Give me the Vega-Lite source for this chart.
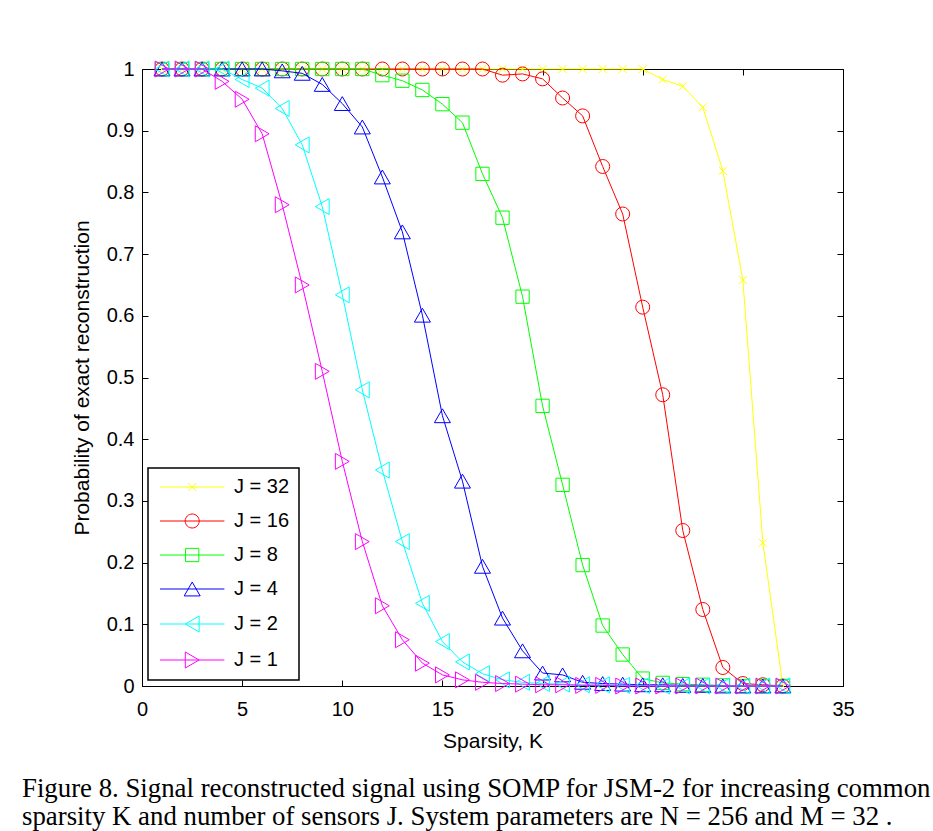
{
  "$schema": "https://vega.github.io/schema/vega-lite/v6.json",
  "width": 701,
  "height": 617,
  "autosize": {"type": "none"},
  "padding": {"left": 142, "top": 69, "right": 90, "bottom": 145},
  "background": "white",
  "config": {
    "view": {"stroke": "black", "strokeWidth": 1},
    "axis": {
      "labelFont": "Liberation Sans",
      "labelFontSize": 20,
      "labelColor": "black",
      "titleFont": "Liberation Sans",
      "titleFontSize": 21,
      "titleFontWeight": "normal",
      "titleColor": "black",
      "domainColor": "black",
      "tickColor": "black",
      "grid": false
    },
    "legend": {
      "orient": "bottom-left", "offset": 6, "padding": 9, "strokeColor": "black", "strokeWidth": 1.5, "fillColor": "white",
      "labelFont": "Liberation Sans", "labelFontSize": 20, "labelColor": "black", "labelOffset": 57, "rowPadding": 14,
      "symbolSize": 196, "symbolStrokeWidth": 1, "symbolOpacity": 1, "symbolFillColor": "transparent"
    }
  },
  "title": {
    "text": ["Figure 8. Signal reconstructed signal using SOMP for JSM-2 for increasing common", "sparsity K and number of sensors J. System parameters are  N = 256  and  M = 32 ."],
    "orient": "bottom",
    "anchor": "start",
    "frame": "group",
    "dx": -120,
    "offset": 25,
    "font": "Liberation Serif",
    "fontSize": 26.8,
    "fontWeight": "normal",
    "lineHeight": 28,
    "color": "black"
  },
  "data": {"values": [
    {"J":"J = 32","K":1,"P":1},{"J":"J = 32","K":2,"P":1},{"J":"J = 32","K":3,"P":1},{"J":"J = 32","K":4,"P":1},{"J":"J = 32","K":5,"P":1},{"J":"J = 32","K":6,"P":1},{"J":"J = 32","K":7,"P":1},{"J":"J = 32","K":8,"P":1},{"J":"J = 32","K":9,"P":1},{"J":"J = 32","K":10,"P":1},{"J":"J = 32","K":11,"P":1},{"J":"J = 32","K":12,"P":1},{"J":"J = 32","K":13,"P":1},{"J":"J = 32","K":14,"P":1},{"J":"J = 32","K":15,"P":1},{"J":"J = 32","K":16,"P":1},{"J":"J = 32","K":17,"P":1},{"J":"J = 32","K":18,"P":1},{"J":"J = 32","K":19,"P":1},{"J":"J = 32","K":20,"P":1},{"J":"J = 32","K":21,"P":1},{"J":"J = 32","K":22,"P":1},{"J":"J = 32","K":23,"P":1},{"J":"J = 32","K":24,"P":1},{"J":"J = 32","K":25,"P":1},{"J":"J = 32","K":26,"P":0.983},{"J":"J = 32","K":27,"P":0.972},{"J":"J = 32","K":28,"P":0.938},{"J":"J = 32","K":29,"P":0.835},{"J":"J = 32","K":30,"P":0.658},{"J":"J = 32","K":31,"P":0.232},{"J":"J = 32","K":32,"P":0},
    {"J":"J = 16","K":1,"P":1},{"J":"J = 16","K":2,"P":1},{"J":"J = 16","K":3,"P":1},{"J":"J = 16","K":4,"P":1},{"J":"J = 16","K":5,"P":1},{"J":"J = 16","K":6,"P":1},{"J":"J = 16","K":7,"P":1},{"J":"J = 16","K":8,"P":1},{"J":"J = 16","K":9,"P":1},{"J":"J = 16","K":10,"P":1},{"J":"J = 16","K":11,"P":1},{"J":"J = 16","K":12,"P":1},{"J":"J = 16","K":13,"P":1},{"J":"J = 16","K":14,"P":1},{"J":"J = 16","K":15,"P":1},{"J":"J = 16","K":16,"P":1},{"J":"J = 16","K":17,"P":1},{"J":"J = 16","K":18,"P":0.99},{"J":"J = 16","K":19,"P":0.992},{"J":"J = 16","K":20,"P":0.984},{"J":"J = 16","K":21,"P":0.953},{"J":"J = 16","K":22,"P":0.924},{"J":"J = 16","K":23,"P":0.842},{"J":"J = 16","K":24,"P":0.765},{"J":"J = 16","K":25,"P":0.614},{"J":"J = 16","K":26,"P":0.472},{"J":"J = 16","K":27,"P":0.252},{"J":"J = 16","K":28,"P":0.124},{"J":"J = 16","K":29,"P":0.03},{"J":"J = 16","K":30,"P":0.004},{"J":"J = 16","K":31,"P":0.002},{"J":"J = 16","K":32,"P":0},
    {"J":"J = 8","K":1,"P":1},{"J":"J = 8","K":2,"P":1},{"J":"J = 8","K":3,"P":1},{"J":"J = 8","K":4,"P":1},{"J":"J = 8","K":5,"P":1},{"J":"J = 8","K":6,"P":1},{"J":"J = 8","K":7,"P":1},{"J":"J = 8","K":8,"P":1},{"J":"J = 8","K":9,"P":1},{"J":"J = 8","K":10,"P":1},{"J":"J = 8","K":11,"P":1},{"J":"J = 8","K":12,"P":0.99},{"J":"J = 8","K":13,"P":0.981},{"J":"J = 8","K":14,"P":0.966},{"J":"J = 8","K":15,"P":0.943},{"J":"J = 8","K":16,"P":0.913},{"J":"J = 8","K":17,"P":0.83},{"J":"J = 8","K":18,"P":0.759},{"J":"J = 8","K":19,"P":0.631},{"J":"J = 8","K":20,"P":0.454},{"J":"J = 8","K":21,"P":0.326},{"J":"J = 8","K":22,"P":0.196},{"J":"J = 8","K":23,"P":0.098},{"J":"J = 8","K":24,"P":0.051},{"J":"J = 8","K":25,"P":0.012},{"J":"J = 8","K":26,"P":0.005},{"J":"J = 8","K":27,"P":0.003},{"J":"J = 8","K":28,"P":0.002},{"J":"J = 8","K":29,"P":0.001},{"J":"J = 8","K":30,"P":0},{"J":"J = 8","K":31,"P":0},{"J":"J = 8","K":32,"P":0},
    {"J":"J = 4","K":1,"P":1},{"J":"J = 4","K":2,"P":1},{"J":"J = 4","K":3,"P":1},{"J":"J = 4","K":4,"P":1},{"J":"J = 4","K":5,"P":1},{"J":"J = 4","K":6,"P":1},{"J":"J = 4","K":7,"P":0.997},{"J":"J = 4","K":8,"P":0.993},{"J":"J = 4","K":9,"P":0.975},{"J":"J = 4","K":10,"P":0.944},{"J":"J = 4","K":11,"P":0.906},{"J":"J = 4","K":12,"P":0.825},{"J":"J = 4","K":13,"P":0.736},{"J":"J = 4","K":14,"P":0.601},{"J":"J = 4","K":15,"P":0.438},{"J":"J = 4","K":16,"P":0.332},{"J":"J = 4","K":17,"P":0.194},{"J":"J = 4","K":18,"P":0.11},{"J":"J = 4","K":19,"P":0.057},{"J":"J = 4","K":20,"P":0.021},{"J":"J = 4","K":21,"P":0.018},{"J":"J = 4","K":22,"P":0.006},{"J":"J = 4","K":23,"P":0.004},{"J":"J = 4","K":24,"P":0.003},{"J":"J = 4","K":25,"P":0.002},{"J":"J = 4","K":26,"P":0.002},{"J":"J = 4","K":27,"P":0.001},{"J":"J = 4","K":28,"P":0.001},{"J":"J = 4","K":29,"P":0},{"J":"J = 4","K":30,"P":0},{"J":"J = 4","K":31,"P":0},{"J":"J = 4","K":32,"P":0},
    {"J":"J = 2","K":1,"P":1},{"J":"J = 2","K":2,"P":1},{"J":"J = 2","K":3,"P":1},{"J":"J = 2","K":4,"P":1},{"J":"J = 2","K":5,"P":0.983},{"J":"J = 2","K":6,"P":0.969},{"J":"J = 2","K":7,"P":0.936},{"J":"J = 2","K":8,"P":0.877},{"J":"J = 2","K":9,"P":0.777},{"J":"J = 2","K":10,"P":0.634},{"J":"J = 2","K":11,"P":0.48},{"J":"J = 2","K":12,"P":0.35},{"J":"J = 2","K":13,"P":0.234},{"J":"J = 2","K":14,"P":0.134},{"J":"J = 2","K":15,"P":0.072},{"J":"J = 2","K":16,"P":0.039},{"J":"J = 2","K":17,"P":0.02},{"J":"J = 2","K":18,"P":0.01},{"J":"J = 2","K":19,"P":0.006},{"J":"J = 2","K":20,"P":0.004},{"J":"J = 2","K":21,"P":0.003},{"J":"J = 2","K":22,"P":0.002},{"J":"J = 2","K":23,"P":0.002},{"J":"J = 2","K":24,"P":0.001},{"J":"J = 2","K":25,"P":0.001},{"J":"J = 2","K":26,"P":0},{"J":"J = 2","K":27,"P":0},{"J":"J = 2","K":28,"P":0},{"J":"J = 2","K":29,"P":0},{"J":"J = 2","K":30,"P":0},{"J":"J = 2","K":31,"P":0},{"J":"J = 2","K":32,"P":0},
    {"J":"J = 1","K":1,"P":1},{"J":"J = 1","K":2,"P":1},{"J":"J = 1","K":3,"P":1},{"J":"J = 1","K":4,"P":0.98},{"J":"J = 1","K":5,"P":0.951},{"J":"J = 1","K":6,"P":0.895},{"J":"J = 1","K":7,"P":0.78},{"J":"J = 1","K":8,"P":0.65},{"J":"J = 1","K":9,"P":0.51},{"J":"J = 1","K":10,"P":0.364},{"J":"J = 1","K":11,"P":0.234},{"J":"J = 1","K":12,"P":0.13},{"J":"J = 1","K":13,"P":0.075},{"J":"J = 1","K":14,"P":0.037},{"J":"J = 1","K":15,"P":0.018},{"J":"J = 1","K":16,"P":0.01},{"J":"J = 1","K":17,"P":0.006},{"J":"J = 1","K":18,"P":0.004},{"J":"J = 1","K":19,"P":0.003},{"J":"J = 1","K":20,"P":0.002},{"J":"J = 1","K":21,"P":0.002},{"J":"J = 1","K":22,"P":0.001},{"J":"J = 1","K":23,"P":0.001},{"J":"J = 1","K":24,"P":0},{"J":"J = 1","K":25,"P":0},{"J":"J = 1","K":26,"P":0},{"J":"J = 1","K":27,"P":0},{"J":"J = 1","K":28,"P":0},{"J":"J = 1","K":29,"P":0},{"J":"J = 1","K":30,"P":0},{"J":"J = 1","K":31,"P":0},{"J":"J = 1","K":32,"P":0}
  ]},
  "encoding": {
    "x": {"field": "K", "type": "quantitative", "scale": {"domain": [0, 35], "nice": false}, "axis": null},
    "y": {"field": "P", "type": "quantitative", "scale": {"domain": [0, 1], "nice": false}, "axis": null}
  },
  "layer": [
    {"transform": [{"filter": {"field": "J", "equal": "J = 32"}}],
     "mark": {"type": "line", "color": "#ffff00", "strokeWidth": 1,
       "point": {"shape": "M-1,-1L1,1M-1,1L1,-1", "filled": false, "size": 64, "strokeWidth": 1, "color": "#ffff00"}},
     "encoding": {
        "x": {"field": "K", "type": "quantitative", "scale": {"domain": [0, 35], "nice": false},
          "title": "Sparsity, K",
          "axis": {"orient": "bottom", "values": [0, 5, 10, 15, 20, 25, 30, 35], "tickSize": -6, "labelPadding": 19, "titlePadding": 11, "labelFlush": false, "labelOverlap": false}},
        "y": {"field": "P", "type": "quantitative", "scale": {"domain": [0, 1], "nice": false},
          "title": "Probability of exact reconstruction",
          "axis": {"orient": "left", "values": [0, 0.1, 0.2, 0.3, 0.4, 0.5, 0.6, 0.7, 0.8, 0.9, 1], "format": ".1~f", "tickSize": -6, "labelPadding": 14, "titlePadding": 14, "labelFlush": false, "labelOverlap": false}}
     }},
    {"transform": [{"filter": {"field": "J", "equal": "J = 16"}}],
     "mark": {"type": "line", "color": "#ff0000", "strokeWidth": 1,
       "point": {"shape": "circle", "filled": false, "size": 196, "strokeWidth": 1, "color": "#ff0000"}}},
    {"transform": [{"filter": {"field": "J", "equal": "J = 8"}}],
     "mark": {"type": "line", "color": "#00ff00", "strokeWidth": 1,
       "point": {"shape": "square", "filled": false, "size": 177, "strokeWidth": 1, "color": "#00ff00"}}},
    {"transform": [{"filter": {"field": "J", "equal": "J = 4"}}],
     "mark": {"type": "line", "color": "#0000ff", "strokeWidth": 1,
       "point": {"shape": "triangle-up", "filled": false, "size": 256, "strokeWidth": 1, "color": "#0000ff"}}},
    {"transform": [{"filter": {"field": "J", "equal": "J = 2"}}],
     "mark": {"type": "line", "color": "#00ffff", "strokeWidth": 1,
       "point": {"shape": "triangle-left", "filled": false, "size": 256, "strokeWidth": 1, "color": "#00ffff"}}},
    {"transform": [{"filter": {"field": "J", "equal": "J = 1"}}],
     "mark": {"type": "line", "color": "#ff00ff", "strokeWidth": 1,
       "point": {"shape": "triangle-right", "filled": false, "size": 256, "strokeWidth": 1, "color": "#ff00ff"}}},
    {
      "transform": [{"filter": "datum.K > 100"}],
      "mark": {"type": "point", "filled": false, "strokeWidth": 1},
      "encoding": {
        "x": {"field": "K", "type": "quantitative", "scale": {"domain": [0, 35], "nice": false},
          "axis": {"orient": "top", "values": [0, 5, 10, 15, 20, 25, 30, 35], "tickSize": -6, "labels": false, "title": null, "domain": false}},
        "y": {"field": "P", "type": "quantitative", "scale": {"domain": [0, 1], "nice": false},
          "axis": {"orient": "right", "values": [0, 0.1, 0.2, 0.3, 0.4, 0.5, 0.6, 0.7, 0.8, 0.9, 1], "tickSize": -6, "labels": false, "title": null, "domain": false}},
        "color": {"field": "J", "type": "nominal", "sort": null,
          "scale": {"domain": ["J = 32", "J = 16", "J = 8", "J = 4", "J = 2", "J = 1"],
                    "range": ["#ffff00", "#ff0000", "#00ff00", "#0000ff", "#00ffff", "#ff00ff"]},
          "legend": {"title": null}},
        "shape": {"field": "J", "type": "nominal", "sort": null,
          "scale": {"domain": ["J = 32", "J = 16", "J = 8", "J = 4", "J = 2", "J = 1"],
                    "range": [
                      "M-1,0L8.2,0M3.03,-0.57L4.17,0.57M3.03,0.57L4.17,-0.57",
                      "M-1,0L8.2,0M4.6,0A1,1,0,1,1,2.6,0A1,1,0,1,1,4.6,0",
                      "M-1,0L8.2,0M2.65,-0.95L4.55,-0.95L4.55,0.95L2.65,0.95Z",
                      "M-1,0L8.2,0M3.6,-0.99L2.457,0.99L4.743,0.99Z",
                      "M-1,0L8.2,0M2.61,0L4.59,-1.143L4.59,1.143Z",
                      "M-1,0L8.2,0M4.59,0L2.61,-1.143L2.61,1.143Z"
                    ]},
          "legend": {"title": null}}
      }
    }
  ],
  "resolve": {"axis": {"x": "independent", "y": "independent"}}
}
